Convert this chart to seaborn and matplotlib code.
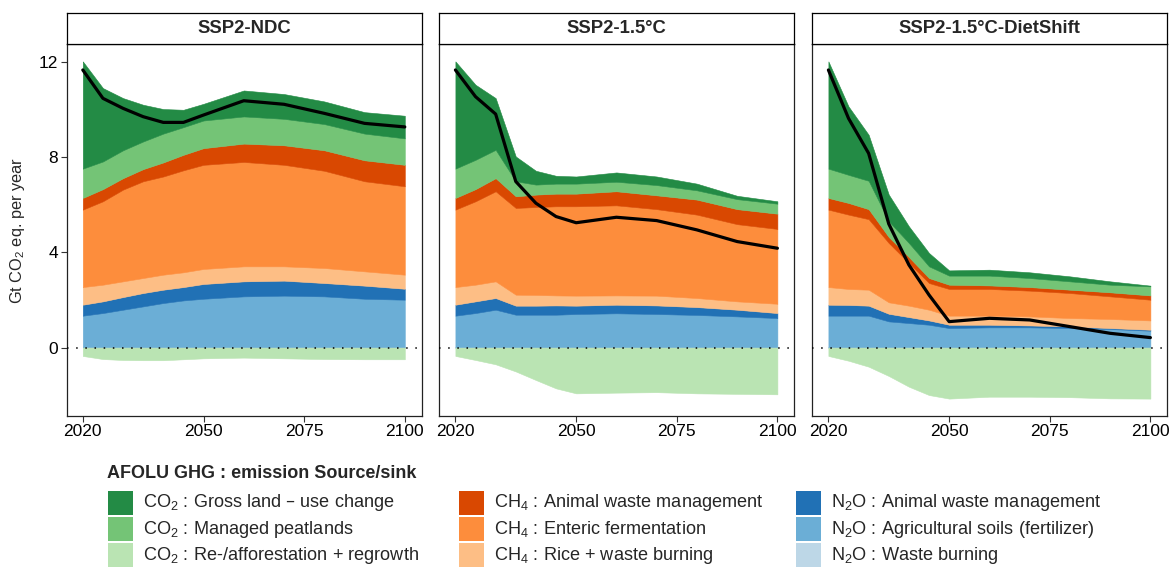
import numpy as np
import pandas as pd
import matplotlib
matplotlib.use('Agg')
import matplotlib.pyplot as plt
from matplotlib.patches import Rectangle
import seaborn as sns

years = [2020, 2025, 2030, 2035, 2040, 2045, 2050, 2060, 2070, 2080, 2090, 2100]
scenarios = ['SSP2-NDC', 'SSP2-1.5°C', 'SSP2-1.5°C-DietShift']

# SSP2-NDC  (Gt CO2 eq. per year)
ndc_gross_luc = [4.50, 3.08, 2.19, 1.54, 1.03, 0.73, 0.70, 1.09, 1.04, 0.95, 0.90, 0.95]
ndc_peat      = [1.23, 1.16, 1.17, 1.16, 1.21, 1.16, 1.16, 1.14, 1.11, 1.10, 1.12, 1.11]
ndc_reforest  = [-0.35, -0.48, -0.52, -0.53, -0.53, -0.49, -0.45, -0.42, -0.45, -0.48, -0.49, -0.49]
ndc_ch4_awm   = [0.49, 0.51, 0.48, 0.51, 0.59, 0.65, 0.70, 0.77, 0.82, 0.86, 0.88, 0.90]
ndc_enteric   = [3.25, 3.50, 3.85, 4.06, 4.12, 4.28, 4.37, 4.38, 4.26, 4.08, 3.78, 3.71]
ndc_rice      = [0.74, 0.70, 0.66, 0.63, 0.63, 0.62, 0.63, 0.63, 0.60, 0.63, 0.60, 0.59]
ndc_n2o_awm   = [0.46, 0.49, 0.53, 0.56, 0.56, 0.56, 0.62, 0.63, 0.63, 0.56, 0.55, 0.46]
ndc_soils     = [1.33, 1.44, 1.58, 1.72, 1.86, 1.97, 2.04, 2.14, 2.17, 2.14, 2.04, 2.00]
ndc_n2o_burn  = [0.01, 0.01, 0.01, 0.01, 0.01, 0.01, 0.01, 0.01, 0.01, 0.01, 0.01, 0.01]
ndc_net       = [11.65, 10.46, 10.04, 9.69, 9.45, 9.45, 9.76, 10.36, 10.21, 9.83, 9.41, 9.26]

# SSP2-1.5°C
c15_gross_luc = [4.50, 3.15, 2.17, 1.04, 0.58, 0.33, 0.30, 0.39, 0.36, 0.28, 0.14, 0.10]
c15_peat      = [1.23, 1.23, 1.19, 0.63, 0.42, 0.42, 0.42, 0.40, 0.43, 0.39, 0.42, 0.42]
c15_reforest  = [-0.35, -0.52, -0.70, -1.00, -1.36, -1.71, -1.92, -1.89, -1.87, -1.92, -1.94, -1.96]
c15_ch4_awm   = [0.49, 0.51, 0.55, 0.49, 0.52, 0.53, 0.53, 0.59, 0.58, 0.63, 0.63, 0.64]
c15_enteric   = [3.25, 3.50, 3.78, 3.64, 3.69, 3.74, 3.75, 3.78, 3.63, 3.50, 3.24, 3.14]
c15_rice      = [0.74, 0.70, 0.70, 0.46, 0.45, 0.42, 0.42, 0.39, 0.41, 0.38, 0.35, 0.39]
c15_n2o_awm   = [0.46, 0.49, 0.49, 0.38, 0.38, 0.39, 0.35, 0.36, 0.36, 0.33, 0.28, 0.21]
c15_soils     = [1.33, 1.44, 1.58, 1.37, 1.37, 1.37, 1.40, 1.43, 1.40, 1.36, 1.30, 1.23]
c15_n2o_burn  = [0.01, 0.01, 0.01, 0.01, 0.01, 0.01, 0.01, 0.01, 0.01, 0.01, 0.01, 0.01]
c15_net       = [11.65, 10.53, 9.80, 6.97, 6.06, 5.50, 5.24, 5.47, 5.33, 4.94, 4.45, 4.17]

# SSP2-1.5°C-DietShift
diet_gross_luc = [4.50, 2.87, 1.93, 1.12, 0.70, 0.56, 0.22, 0.25, 0.24, 0.21, 0.14, 0.03]
diet_peat      = [1.23, 1.18, 1.19, 0.66, 0.59, 0.49, 0.38, 0.41, 0.38, 0.35, 0.32, 0.38]
diet_reforest  = [-0.35, -0.55, -0.80, -1.19, -1.64, -1.99, -2.14, -2.06, -2.06, -2.08, -2.13, -2.14]
diet_ch4_awm   = [0.49, 0.49, 0.42, 0.25, 0.25, 0.21, 0.18, 0.15, 0.15, 0.14, 0.17, 0.18]
diet_enteric   = [3.25, 3.12, 2.96, 2.49, 1.79, 1.12, 1.12, 1.12, 1.08, 1.05, 0.95, 0.87]
diet_rice      = [0.74, 0.67, 0.67, 0.48, 0.48, 0.45, 0.38, 0.38, 0.38, 0.35, 0.38, 0.39]
diet_n2o_awm   = [0.46, 0.45, 0.42, 0.32, 0.25, 0.18, 0.14, 0.11, 0.08, 0.07, 0.04, 0.04]
diet_soils     = [1.33, 1.33, 1.33, 1.09, 1.02, 0.95, 0.81, 0.84, 0.84, 0.81, 0.77, 0.70]
diet_n2o_burn  = [0.01, 0.01, 0.01, 0.01, 0.01, 0.01, 0.01, 0.01, 0.01, 0.01, 0.01, 0.01]
diet_net       = [11.65, 9.62, 8.15, 5.19, 3.47, 2.21, 1.09, 1.23, 1.16, 0.88, 0.60, 0.42]

legend_labels = [
    r'$\mathregular{CO_2}$ : Gross land – use change',
    r'$\mathregular{CO_2}$ : Managed peatlands',
    r'$\mathregular{CO_2}$ : Re-/afforestation + regrowth',
    r'$\mathregular{CH_4}$ : Animal waste management',
    r'$\mathregular{CH_4}$ : Enteric fermentation',
    r'$\mathregular{CH_4}$ : Rice + waste burning',
    r'$\mathregular{N_2O}$ : Animal waste management',
    r'$\mathregular{N_2O}$ : Agricultural soils (fertilizer)',
    r'$\mathregular{N_2O}$ : Waste burning',
]
legend_colors = ['#238b45', '#74c476', '#bae4b3',
                 '#d94801', '#fd8d3c', '#fdbe85',
                 '#2171b5', '#6baed6', '#bdd7e7']

# stacking order, bottom to top
panels = [
    ([ndc_n2o_burn, ndc_soils, ndc_n2o_awm, ndc_rice, ndc_enteric, ndc_ch4_awm, ndc_peat, ndc_gross_luc],
     ndc_reforest, ndc_net),
    ([c15_n2o_burn, c15_soils, c15_n2o_awm, c15_rice, c15_enteric, c15_ch4_awm, c15_peat, c15_gross_luc],
     c15_reforest, c15_net),
    ([diet_n2o_burn, diet_soils, diet_n2o_awm, diet_rice, diet_enteric, diet_ch4_awm, diet_peat, diet_gross_luc],
     diet_reforest, diet_net),
]
stack_colors = ['#bdd7e7', '#6baed6', '#2171b5', '#fdbe85', '#fd8d3c', '#d94801', '#74c476', '#238b45']

sns.set_theme(style='ticks')
plt.rcParams['font.family'] = ['Liberation Sans', 'DejaVu Sans']

W, H = 1171, 568
fig = plt.figure(figsize=(W / 100, H / 100), dpi=100)

lefts = [66.7, 439.3, 812.3]
pw = 355
top, bottom, strip_top = 44, 416, 13.3

for i, (scen, (layers, neg, net)) in enumerate(zip(scenarios, panels)):
    ax = fig.add_axes([lefts[i] / W, 1 - bottom / H, pw / W, (bottom - top) / H])
    base = np.zeros(len(years))
    for vals, col in zip(layers, stack_colors):
        upper = base + np.array(vals)
        ax.fill_between(years, base, upper, color=col, edgecolor=col, lw=0.4)
        base = upper
    ax.fill_between(years, neg, 0, color='#bae4b3', edgecolor='#bae4b3', lw=0.4)
    ax.axhline(0, color='black', ls=(0, (1, 5)), lw=1.1, zorder=3)

    df = pd.DataFrame({'year': years, 'net': net})
    sns.lineplot(data=df, x='year', y='net', ax=ax, color='black', lw=2.3, zorder=4)

    ax.set_xlim(2016, 2104.2)
    ax.set_ylim(-2.87, 12.74)
    ax.set_xticks([2020, 2050, 2075, 2100])
    ax.set_yticks([0, 4, 8, 12])
    ax.set_xlabel('')
    ax.set_ylabel('')
    for s in ax.spines.values():
        s.set_color('#222222')
        s.set_linewidth(0.9)
    ax.tick_params(direction='out', length=4, width=0.8, color='#333333',
                   labelsize=12.5, labelcolor='black', pad=2)
    if i > 0:
        ax.tick_params(left=False, labelleft=False)

    sax = fig.add_axes([lefts[i] / W, 1 - top / H, pw / W, (top - strip_top) / H])
    sax.set_xticks([])
    sax.set_yticks([])
    for s in sax.spines.values():
        s.set_color('black')
        s.set_linewidth(0.9)
    sax.text(0.5, 0.5, scen, ha='center', va='center', fontsize=13.3,
             fontweight='bold', transform=sax.transAxes)

fig.text(18 / W, 1 - 230 / H, r'Gt CO$\mathregular{_2}$ eq. per year', rotation=90,
         ha='center', va='center', fontsize=11.8)

# legend (drawn by hand to match key size and spacing)
fig.text(107 / W, 1 - 473 / H, 'AFOLU GHG : emission Source/sink', fontsize=13,
         fontweight='bold', ha='left', va='center')
col_x = [108.3, 459.3, 796.3]
key_w, key_h, row_pitch, first_top = 24.4, 23.6, 26.2, 491
for n, (lab, col) in enumerate(zip(legend_labels, legend_colors)):
    k, r = divmod(n, 3)
    ktop = first_top + r * row_pitch
    fig.add_artist(Rectangle((col_x[k] / W, 1 - (ktop + key_h) / H), key_w / W, key_h / H,
                             transform=fig.transFigure, facecolor=col, edgecolor='none'))
    fig.text((col_x[k] + key_w + 10.5) / W, 1 - (ktop + key_h / 2) / H, lab,
             fontsize=13.1, ha='left', va='center')

fig.savefig('out.png', dpi=100)
